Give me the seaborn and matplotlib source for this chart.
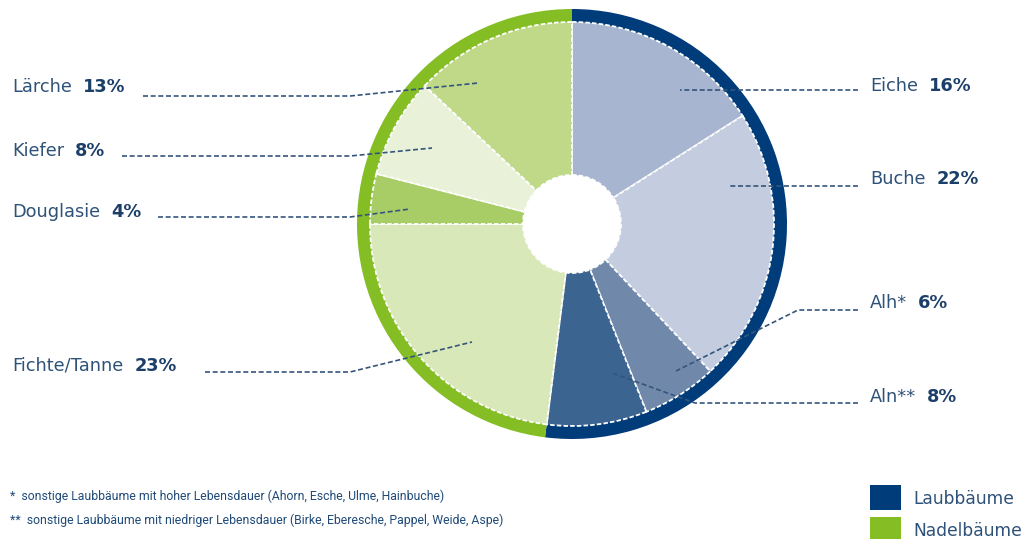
import seaborn as sns
import matplotlib.pyplot as plt
from matplotlib.patches import Rectangle

sns.set_theme(style="white")
plt.rcParams['font.family'] = ['DejaVu Sans']

# Baumarten (im Uhrzeigersinn ab 12 Uhr)
arten = ['Eiche', 'Buche', 'Alh*', 'Aln**', 'Fichte/Tanne', 'Douglasie', 'Kiefer', 'Lärche']
anteile = [16, 22, 6, 8, 23, 4, 8, 13]
farben = ['#a7b5d0', '#c4cce0', '#7089ab', '#3b6490', '#d9e8b9', '#a8cc66', '#e9f2d8', '#bfd988']

gruppen = ['Laubbäume', 'Nadelbäume']
gruppen_anteile = [52, 48]
gruppen_farben = ['#003c7a', '#84bd24']

fussnoten = ['*  sonstige Laubbäume mit hoher Lebensdauer (Ahorn, Esche, Ulme, Hainbuche)',
             '**  sonstige Laubbäume mit niedriger Lebensdauer (Birke, Eberesche, Pappel, Weide, Aspe)']

W, H = 1029, 539
fig = plt.figure(figsize=(W / 100, H / 100), dpi=100)
ax = fig.add_axes([0, 0, 1, 1])

cx, cy = 572, 224
# pixel coordinates, y down -> start at -90 and go "counterclock" in data space
ax.pie(gruppen_anteile, colors=gruppen_farben, radius=215, center=(cx, cy),
       startangle=-90, counterclock=True, wedgeprops=dict(width=14, linewidth=0))
ax.pie(anteile, colors=farben, radius=202, center=(cx, cy),
       startangle=-90, counterclock=True,
       wedgeprops=dict(width=202 - 49, edgecolor='white', linewidth=1.3, linestyle=(0, (2.5, 1.2))))

ax.set_xlim(0, W)
ax.set_ylim(H, 0)
ax.set_aspect('equal')
ax.axis('off')

name_c = '#2f5278'
pct_c = '#1c3f69'
line_c = '#35557b'

# label layout: (text x, text y, leader line points)
layout = {
    'Lärche': (12, 87, [(143, 96), (350, 96), (478, 83)]),
    'Kiefer': (12, 151, [(122, 156), (350, 156), (432, 148)]),
    'Douglasie': (12, 212, [(158, 217), (350, 217), (410, 209)]),
    'Fichte/Tanne': (12, 366, [(205, 372), (350, 372), (472, 342)]),
    'Eiche': (870, 86, [(858, 90), (680, 90)]),
    'Buche': (870, 179, [(858, 186), (728, 186)]),
    'Alh*': (870, 303, [(858, 310), (798, 310), (676, 371)]),
    'Aln**': (870, 397, [(858, 403), (695, 403), (612, 373)]),
}

for art, wert in zip(arten, anteile):
    tx, ty, pts = layout[art]
    t = ax.text(tx, ty, art, color=name_c, fontsize=12.8, va='center', ha='left')
    ax.annotate(f'{wert}%', xy=(1, 0.5), xycoords=t, xytext=(8, 0), textcoords='offset points',
                color=pct_c, fontsize=12.8, fontweight='bold', va='center', ha='left')
    xs = [p[0] for p in pts]
    ys = [p[1] for p in pts]
    ax.plot(xs, ys, color=line_c, lw=1.2, linestyle=(0, (3, 1.6)))

for i, note in enumerate(fussnoten):
    ax.text(10, 496 + i * 24, note, color='#1f4a78', fontsize=8.8, va='center', ha='left',
            family=['Roboto', 'DejaVu Sans'])

for i, (g, c) in enumerate(zip(gruppen, gruppen_farben)):
    y0 = 485 + i * 32
    ax.add_patch(Rectangle((870, y0), 31, 25, color=c, lw=0))
    ax.text(913, y0 + 14, g, color=name_c, fontsize=12.3, va='center', ha='left')

fig.savefig('out.png', dpi=100)
